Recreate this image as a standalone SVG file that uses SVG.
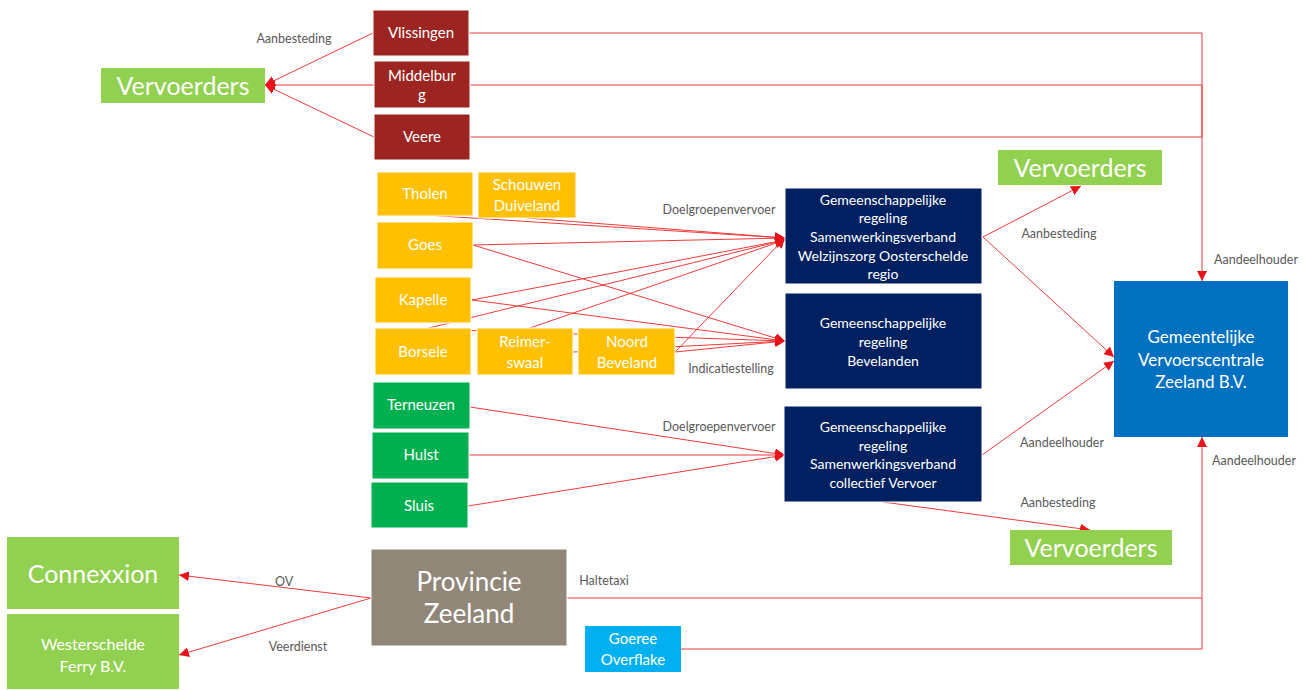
<svg xmlns="http://www.w3.org/2000/svg" width="1310" height="690" viewBox="0 0 1310 690">
<defs>
<style>
.b{stroke:#ffffff;stroke-width:1}
.red{fill:#9C2521}.yel{fill:#FFC000}.grn{fill:#00B050}.lg{fill:#92D050}.nav{fill:#002060}.blu{fill:#0070C0}.lb{fill:#00B0F0}.tau{fill:#918779}
.t{font-family:Lato,"Liberation Sans",sans-serif;fill:#ffffff;text-anchor:middle}
.s15{font-size:15px}.s14{font-size:14px}.s16{font-size:16px}.s17{font-size:17px}.s25{font-size:25px}.s26{font-size:26px}
.lab{font-family:Lato,"Liberation Sans",sans-serif;font-size:12.5px;fill:#595959;text-anchor:middle}
.c{fill:none;stroke:#EE3A3A;stroke-width:1}
.a{marker-end:url(#ah)}
</style>
<marker id="ah" markerUnits="userSpaceOnUse" markerWidth="12" markerHeight="10" refX="10" refY="5" orient="auto">
<path d="M0,0 L10,5 L0,10 Z" fill="#E8141B"/>
</marker>
</defs>

<g id="connectors">
<polyline class="c" points="469,33 1202,33 1202,85"/>
<line class="c" x1="470" y1="85" x2="1202" y2="85"/>
<polyline class="c a" points="470,137 1202,137 1202,85 1202,281"/>
<line class="c a" x1="373" y1="33" x2="265" y2="85"/>
<line class="c a" x1="374" y1="85" x2="265" y2="85"/>
<line class="c a" x1="374" y1="137" x2="265" y2="85"/>
<line class="c a" x1="425" y1="215" x2="785" y2="238"/>
<line class="c a" x1="527" y1="218" x2="785" y2="238"/>
<line class="c a" x1="473" y1="245" x2="785" y2="238"/>
<line class="c a" x1="472" y1="300" x2="785" y2="240"/>
<line class="c a" x1="425" y1="329" x2="785" y2="240"/>
<line class="c a" x1="527" y1="329" x2="785" y2="240"/>
<line class="c a" x1="675" y1="352" x2="785" y2="238"/>
<line class="c a" x1="473" y1="245" x2="785" y2="341"/>
<line class="c a" x1="472" y1="300" x2="785" y2="341"/>
<line class="c a" x1="425" y1="329" x2="785" y2="341"/>
<line class="c a" x1="573" y1="352" x2="785" y2="341"/>
<line class="c a" x1="675" y1="352" x2="785" y2="341"/>
<line class="c a" x1="470" y1="407" x2="785" y2="455"/>
<line class="c a" x1="469" y1="455" x2="785" y2="455"/>
<line class="c a" x1="468" y1="506" x2="785" y2="455"/>
<line class="c a" x1="983" y1="237" x2="1081" y2="186"/>
<line class="c a" x1="983" y1="237" x2="1114" y2="357"/>
<line class="c a" x1="982" y1="455" x2="1114" y2="361"/>
<line class="c a" x1="883" y1="502" x2="1090" y2="530"/>
<line class="c a" x1="371" y1="598" x2="179" y2="575"/>
<line class="c a" x1="371" y1="598" x2="179" y2="655"/>
<polyline class="c" points="567,598 1202,598"/>
<polyline class="c a" points="681,649 1202,649 1202,437"/>
</g>

<g id="labels">
<text class="lab" x="294" y="43">Aanbesteding</text>
<text class="lab" x="719" y="214">Doelgroepenvervoer</text>
<text class="lab" x="731" y="373">Indicatiestelling</text>
<text class="lab" x="719" y="431">Doelgroepenvervoer</text>
<text class="lab" x="1059" y="238">Aanbesteding</text>
<text class="lab" x="1256" y="264">Aandeelhouder</text>
<text class="lab" x="1062" y="447">Aandeelhouder</text>
<text class="lab" x="1254" y="465">Aandeelhouder</text>
<text class="lab" x="1058" y="507">Aanbesteding</text>
<text class="lab" x="604" y="585">Haltetaxi</text>
<text class="lab" x="284" y="586">OV</text>
<text class="lab" x="298" y="651">Veerdienst</text>
</g>

<g id="vervoerders-left"><rect class="lg" x="101" y="68" width="164" height="35"/><text class="t s25" x="183" y="95">Vervoerders</text></g>
<g id="vlissingen"><rect class="red b" x="373" y="10" width="96" height="46"/><text class="t s15" x="421" y="38">Vlissingen</text></g>
<g id="middelburg"><rect class="red b" x="374" y="61" width="96" height="47"/><text class="t s15" x="422" y="81">Middelbur</text><text class="t s15" x="422" y="100">g</text></g>
<g id="veere"><rect class="red b" x="374" y="114" width="96" height="46"/><text class="t s15" x="422" y="142">Veere</text></g>

<g id="tholen"><rect class="yel b" x="377" y="172" width="96" height="44"/><text class="t s15" x="425" y="199">Tholen</text></g>
<g id="schouwen"><rect class="yel b" x="478" y="172" width="98" height="46"/><text class="t s15" x="527" y="190">Schouwen</text><text class="t s15" x="527" y="211">Duiveland</text></g>
<g id="goes"><rect class="yel b" x="377" y="222" width="96" height="47"/><text class="t s15" x="425" y="250">Goes</text></g>
<g id="kapelle"><rect class="yel b" x="375" y="277" width="96" height="46"/><text class="t s15" x="423" y="305">Kapelle</text></g>
<g id="borsele"><rect class="yel b" x="375" y="328" width="96" height="47"/><text class="t s15" x="423" y="357">Borsele</text></g>
<g id="reimerswaal"><rect class="yel b" x="477" y="328" width="96" height="47"/><text class="t s15" x="525" y="347">Reimer-</text><text class="t s15" x="525" y="368">swaal</text></g>
<g id="noord-beveland"><rect class="yel b" x="578" y="328" width="97" height="47"/><text class="t s15" x="627" y="347">Noord</text><text class="t s15" x="627" y="368">Beveland</text></g>

<g id="terneuzen"><rect class="grn b" x="373" y="382" width="97" height="47"/><text class="t s15" x="421" y="410">Terneuzen</text></g>
<g id="hulst"><rect class="grn b" x="372" y="432" width="97" height="47"/><text class="t s15" x="421" y="460">Hulst</text></g>
<g id="sluis"><rect class="grn b" x="371" y="482" width="97" height="46"/><text class="t s15" x="419" y="511">Sluis</text></g>

<g id="gr-swo"><rect class="nav b" x="785" y="188" width="197" height="96"/>
<text class="t s14" x="883" y="205">Gemeenschappelijke</text>
<text class="t s14" x="883" y="223">regeling</text>
<text class="t s14" x="883" y="242">Samenwerkingsverband</text>
<text class="t s14" x="883" y="261">Welzijnszorg Oosterschelde</text>
<text class="t s14" x="883" y="279">regio</text></g>
<g id="gr-bevelanden"><rect class="nav b" x="785" y="293" width="197" height="96"/>
<text class="t s14" x="883" y="328">Gemeenschappelijke</text>
<text class="t s14" x="883" y="347">regeling</text>
<text class="t s14" x="883" y="366">Bevelanden</text></g>
<g id="gr-collectief"><rect class="nav b" x="784" y="406" width="198" height="96"/>
<text class="t s14" x="883" y="432">Gemeenschappelijke</text>
<text class="t s14" x="883" y="451">regeling</text>
<text class="t s14" x="883" y="469">Samenwerkingsverband</text>
<text class="t s14" x="883" y="488">collectief Vervoer</text></g>

<g id="vervoerders-top"><rect class="lg" x="998" y="150" width="164" height="35"/><text class="t s25" x="1080" y="177">Vervoerders</text></g>
<g id="vervoerders-bottom"><rect class="lg" x="1010" y="530" width="162" height="35"/><text class="t s25" x="1091" y="557">Vervoerders</text></g>

<g id="gvz"><rect class="blu" x="1114" y="281" width="174" height="156"/>
<text class="t s17" x="1201" y="343">Gemeentelijke</text>
<text class="t s17" x="1201" y="366">Vervoerscentrale</text>
<text class="t s17" x="1201" y="388">Zeeland B.V.</text></g>

<g id="connexxion"><rect class="lg" x="7" y="537" width="172" height="72"/><text class="t s25" x="93" y="583">Connexxion</text></g>
<g id="westerschelde"><rect class="lg" x="7" y="614" width="172" height="75"/><text class="t s16" x="93" y="650">Westerschelde</text><text class="t s16" x="93" y="672">Ferry B.V.</text></g>
<g id="provincie"><rect class="tau b" x="371" y="549" width="196" height="97"/><text class="t s26" x="469" y="591">Provincie</text><text class="t s26" x="469" y="623">Zeeland</text></g>
<g id="goeree"><rect class="lb" x="585" y="626" width="96" height="46"/><text class="t s15" x="633" y="644">Goeree</text><text class="t s15" x="633" y="665">Overflake</text></g>
</svg>
